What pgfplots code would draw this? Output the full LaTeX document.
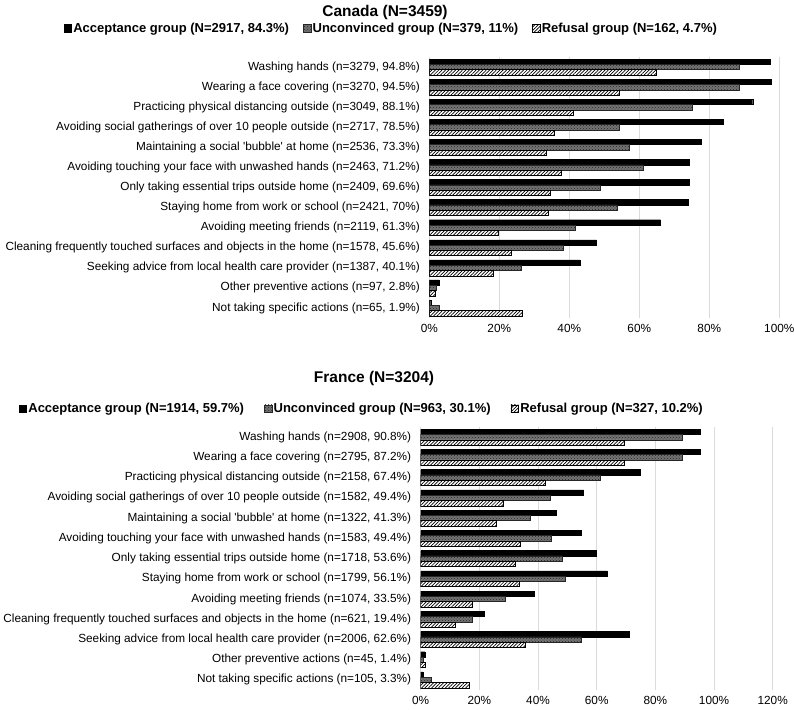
\documentclass[border=0pt]{standalone}
\usepackage{fontspec}
\setmainfont{Liberation Sans}
\usepackage{pgfplots}
\usepackage{pgfplotstable}
\pgfplotsset{compat=1.18}
\usetikzlibrary{patterns,patterns.meta}

% values, percent of each group
\pgfplotstableread{
y acc unc ref
0 97.3 88.6 64.8
1 97.6 88.6 54.3
2 92.4 75.2 41.2
3 84.0 54.3 35.7
4 77.8 57.0 33.3
5 74.3 61.1 37.6
6 74.3 48.8 34.6
7 74.1 53.7 33.9
8 66.1 41.6 19.6
9 47.8 38.2 23.3
10 43.1 26.3 18.3
11 2.9 2.0 1.7
12 0.4 2.9 26.5
}\canada

\pgfplotstableread{
y acc unc ref
0 95.3 89.1 69.5
1 95.3 89.1 69.5
2 74.7 61.2 42.5
3 55.5 44.2 28.1
4 46.2 37.2 25.7
5 54.7 44.5 34.0
6 59.9 48.3 32.4
7 63.5 49.4 33.7
8 38.8 28.7 17.6
9 21.6 17.6 11.8
10 71.2 54.9 35.5
11 1.4 1.0 1.7
12 0.7 3.6 16.6
}\france

\pgfplotsset{
  panel/.style={
    scale only axis,
    xbar, bar width=5.3pt,
    xmin=0, ymin=-0.5, ymax=12.5, y dir=reverse,
    xmajorgrids, grid style={draw=black!14, line width=0.8pt},
    axis line style={draw=none}, major tick length=0pt,
    ytick={0,...,12},
    tick label style={font=\fontsize{11.8}{13}\selectfont},
    yticklabel style={xshift=-6pt},
    xticklabel style={yshift=-3pt},
    /pgf/number format/assume math mode=true,
    xticklabel={\pgfmathprintnumber{\tick}\%},
    legend columns=3,
    legend image code/.code={\draw[##1] (0pt,-3.8pt) rectangle (7.6pt,3.8pt);},
    legend style={draw=none, fill=none, anchor=center,
      font=\bfseries\fontsize{13}{15}\selectfont,
      nodes={inner xsep=1.5pt, inner ysep=1pt}},
  },
  acc/.style={draw=black, fill=black, bar shift=5.3pt},
  unc/.style={draw=black!85, line width=0.5pt, fill=black!55,
    postaction={pattern=crosshatch dots, pattern color=black!85}, bar shift=0pt},
  ref/.style={draw=black, line width=0.5pt, fill=white,
    postaction={pattern={Lines[angle=45, distance=2.4pt, line width=0.7pt]}, pattern color=black},
    bar shift=-5.3pt},
}

\begin{document}
\begin{tikzpicture}
\useasboundingbox (0pt,0pt) rectangle (794pt,709pt);

\node[font=\bfseries\fontsize{15.5}{17}\selectfont] at (385pt,696pt) {Canada (N=3459)};
\begin{axis}[panel, at={(429.3pt,652pt)}, anchor=north west,
  width=350pt, height=261pt, xmax=100, xtick={0,20,...,100},
  yticklabels={
    {Washing hands (n=3279, 94.8\%)},
    {Wearing a face covering (n=3270, 94.5\%)},
    {Practicing physical distancing outside (n=3049, 88.1\%)},
    {Avoiding social gatherings of over 10 people outside (n=2717, 78.5\%)},
    {Maintaining a social \textquotesingle bubble\textquotesingle\ at home (n=2536, 73.3\%)},
    {Avoiding touching your face with unwashed hands (n=2463, 71.2\%)},
    {Only taking essential trips outside home (n=2409, 69.6\%)},
    {Staying home from work or school (n=2421, 70\%)},
    {Avoiding meeting friends (n=2119, 61.3\%)},
    {Cleaning frequently touched surfaces and objects in the home (n=1578, 45.6\%)},
    {Seeking advice from local health care provider (n=1387, 40.1\%)},
    {Other preventive actions (n=97, 2.8\%)},
    {Not taking specific actions (n=65, 1.9\%)}},
  legend style={at={(axis description cs:-0.109,1.11)},
    /tikz/every even column/.append style={column sep=12.5pt}},
]
\addplot[acc] table[x=acc, y=y] {\canada};
\addplot[unc] table[x=unc, y=y] {\canada};
\addplot[ref] table[x=ref, y=y] {\canada};
\legend{{Acceptance group (N=2917, 84.3\%)}, {Unconvinced group (N=379, 11\%)}, {Refusal group (N=162, 4.7\%)}}
\end{axis}

\node[font=\bfseries\fontsize{15.5}{17}\selectfont] at (374pt,331pt) {France (N=3204)};
\begin{axis}[panel, at={(420.7pt,282pt)}, anchor=north west,
  width=352pt, height=263pt, xmax=120, xtick={0,20,...,120},
  yticklabels={
    {Washing hands (n=2908, 90.8\%)},
    {Wearing a face covering (n=2795, 87.2\%)},
    {Practicing physical distancing outside (n=2158, 67.4\%)},
    {Avoiding social gatherings of over 10 people outside (n=1582, 49.4\%)},
    {Maintaining a social \textquotesingle bubble\textquotesingle\ at home (n=1322, 41.3\%)},
    {Avoiding touching your face with unwashed hands (n=1583, 49.4\%)},
    {Only taking essential trips outside home (n=1718, 53.6\%)},
    {Staying home from work or school (n=1799, 56.1\%)},
    {Avoiding meeting friends (n=1074, 33.5\%)},
    {Cleaning frequently touched surfaces and objects in the home (n=621, 19.4\%)},
    {Seeking advice from local health care provider (n=2006, 62.6\%)},
    {Other preventive actions (n=45, 1.4\%)},
    {Not taking specific actions (n=105, 3.3\%)}},
  legend style={at={(axis description cs:-0.168,1.07)},
    /tikz/every even column/.append style={column sep=18.5pt}},
]
\addplot[acc] table[x=acc, y=y] {\france};
\addplot[unc] table[x=unc, y=y] {\france};
\addplot[ref] table[x=ref, y=y] {\france};
\legend{{Acceptance group (N=1914, 59.7\%)}, {Unconvinced group (N=963, 30.1\%)}, {Refusal group (N=327, 10.2\%)}}
\end{axis}
\end{tikzpicture}
\end{document}
